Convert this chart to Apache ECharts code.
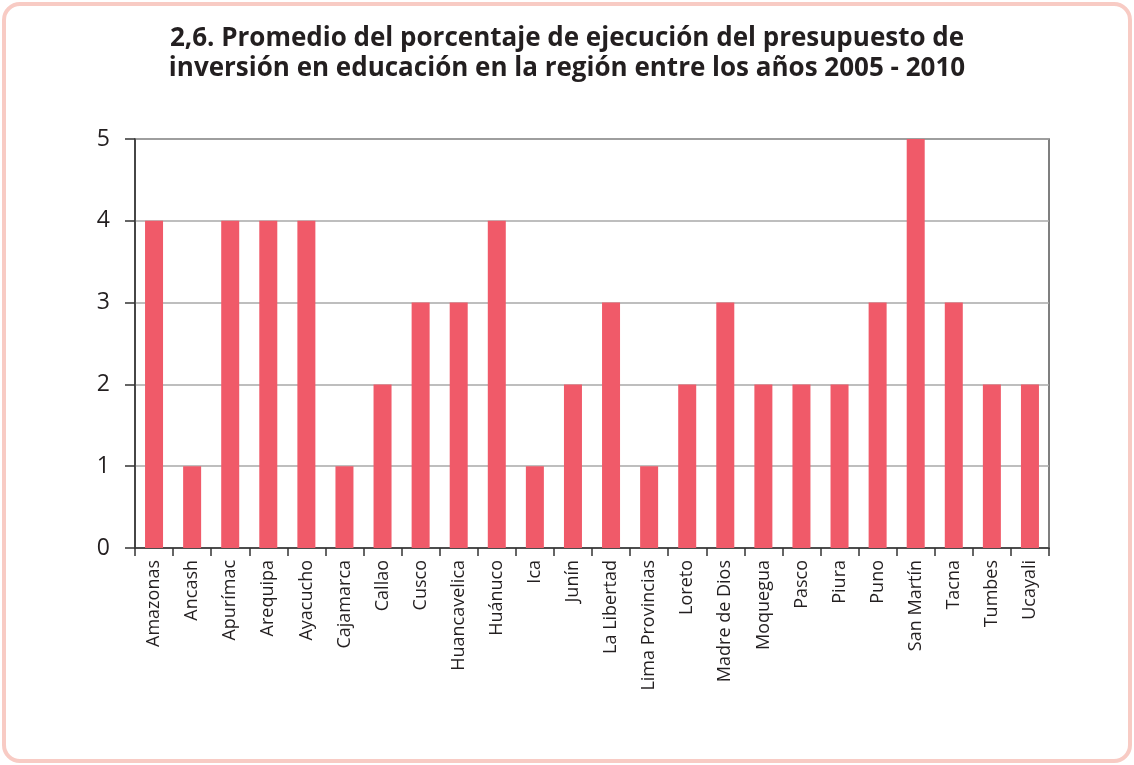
<!DOCTYPE html>
<html><head><meta charset="utf-8">
<script src="https://cdn.jsdelivr.net/npm/echarts@6/dist/echarts.min.js"></script>
<style>html,body{margin:0;padding:0;background:#fff;}#c{width:1134px;height:765px;}</style>
</head><body><div id="c"></div>
<script>
const titleLines = ["2,6. Promedio del porcentaje de ejecución del presupuesto de", "inversión en educación en la región entre los años 2005 - 2010"];
const regions = ["Amazonas","Ancash","Apurímac","Arequipa","Ayacucho","Cajamarca","Callao","Cusco","Huancavelica","Huánuco","Ica","Junín","La Libertad","Lima Provincias","Loreto","Madre de Dios","Moquegua","Pasco","Piura","Puno","San Martín","Tacna","Tumbes","Ucayali"];
const values = [4,1,4,4,4,1,2,3,3,4,1,2,3,1,2,3,2,2,2,3,5,3,2,2];

const chart = echarts.init(document.getElementById('c'), null, {renderer:'canvas'});
chart.setOption({
  animation:false,
  backgroundColor:'#fff',
  title:{
    text: titleLines.join('\n'),
    left:'center', top:19,
    textStyle:{fontFamily:'Open Sans', fontWeight:'bold', fontSize:26, color:'#231f20', lineHeight:30}
  },
  graphic:[{
    type:'rect', shape:{x:4, y:4, width:1126, height:757, r:16},
    style:{fill:null, stroke:'#f8cbc4', lineWidth:4}, silent:true, z:-1
  }],
  grid:{left:135, right:85, top:139, bottom:217, show:true, borderColor:'#555', borderWidth:1.5},
  xAxis:{
    type:'category', data:regions,
    axisLine:{lineStyle:{color:'#333', width:1.5}},
    axisTick:{show:true, length:8, lineStyle:{color:'#333', width:1.5}, alignWithLabel:false},
    axisLabel:{rotate:90, interval:0, margin:12, fontFamily:'Open Sans', fontSize:18, color:'#231f20'}
  },
  yAxis:{
    type:'value', min:0, max:5, interval:1,
    axisLine:{show:true, lineStyle:{color:'#333', width:1.5}},
    axisTick:{show:true, length:10, lineStyle:{color:'#333', width:1.5}},
    axisLabel:{margin:25, fontFamily:'Open Sans', fontSize:23, color:'#231f20'},
    splitLine:{show:true, lineStyle:{color:'#a8a8a8', width:1.5}}
  },
  series:[{
    type:'bar', data:values, barWidth:18,
    itemStyle:{color:'#f05a69'}
  }]
});
</script></body></html>
